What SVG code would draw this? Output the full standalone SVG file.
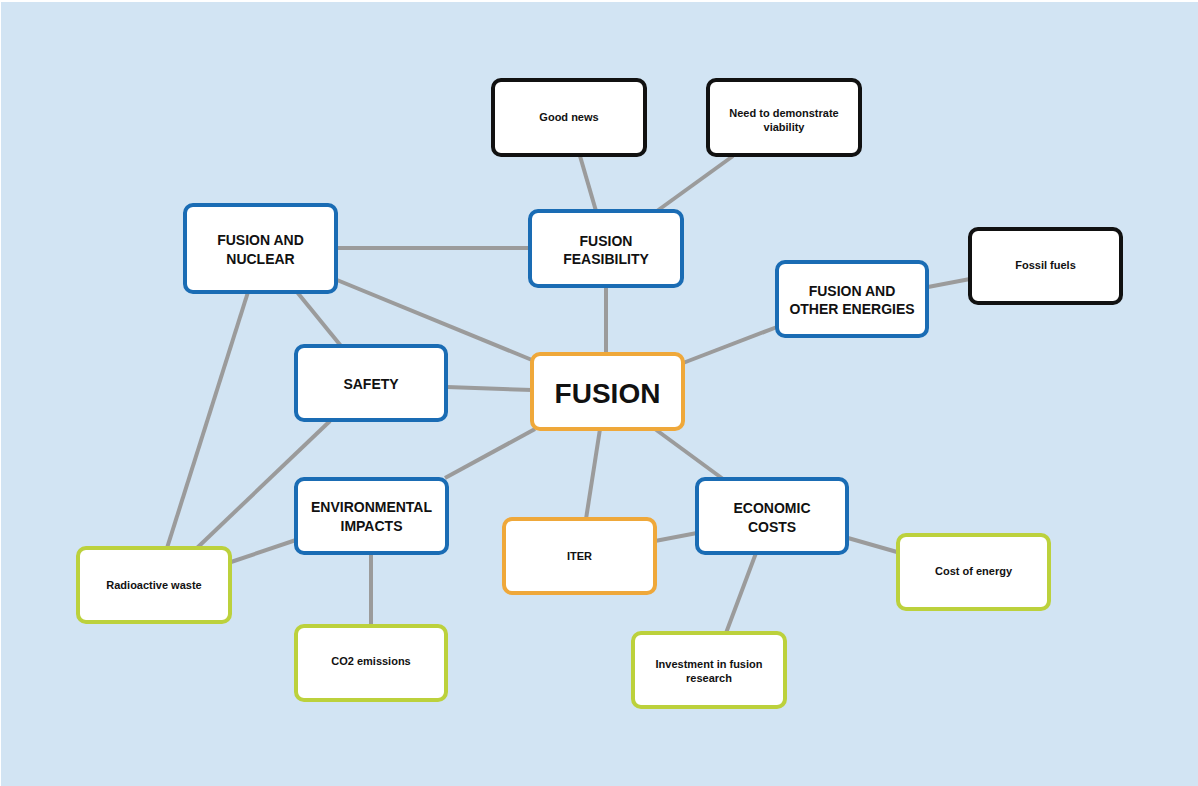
<svg xmlns="http://www.w3.org/2000/svg" width="1198" height="786" viewBox="0 0 1198 786">
<style>
.box{fill:#ffffff;stroke-width:4}
.blue{stroke:#1a6cb4}
.black{stroke:#111111}
.orange{stroke:#efa83a}
.green{stroke:#bcd13c}
text{font-family:"Liberation Sans",Arial,sans-serif;font-weight:bold;fill:#111111;text-anchor:middle}
.big{font-size:28px}
.mid{font-size:14px}
.small{font-size:11px}
#connectors line{stroke:#9b9b9b;stroke-width:4;stroke-linecap:butt}
</style>
<rect x="0" y="0" width="1198" height="786" fill="#ffffff"/>
<rect x="1" y="2" width="1197" height="784" fill="#d2e4f3"/>
<g id="connectors">
<line x1="580" y1="156" x2="596" y2="211"/>
<line x1="733" y1="156" x2="657" y2="211"/>
<line x1="336" y1="248" x2="530" y2="248"/>
<line x1="606" y1="286" x2="606" y2="354"/>
<line x1="337" y1="280" x2="532" y2="360"/>
<line x1="297" y1="292" x2="341" y2="346"/>
<line x1="248" y1="292" x2="167" y2="548"/>
<line x1="447" y1="387" x2="532" y2="390"/>
<line x1="330" y1="421" x2="197" y2="548"/>
<line x1="296" y1="540" x2="231" y2="562"/>
<line x1="371" y1="553" x2="371" y2="626"/>
<line x1="535" y1="429" x2="445" y2="478"/>
<line x1="600" y1="429" x2="586" y2="519"/>
<line x1="655" y1="429" x2="723" y2="479"/>
<line x1="655" y1="541" x2="697" y2="533"/>
<line x1="756" y1="553" x2="726" y2="633"/>
<line x1="848" y1="538" x2="897" y2="552"/>
<line x1="683" y1="363" x2="777" y2="327"/>
<line x1="928" y1="287" x2="970" y2="279"/>
</g>
<g id="good-news"><rect class="box black" x="493" y="80" width="152" height="75" rx="8"/><text class="small" x="569" y="121">Good news</text></g>
<g id="need-viability"><rect class="box black" x="708" y="80" width="152" height="75" rx="8"/><text class="small" x="784" y="117">Need to demonstrate</text><text class="small" x="784" y="131">viability</text></g>
<g id="fusion-feasibility"><rect class="box blue" x="530" y="211" width="152" height="75" rx="8"/><text class="mid" x="606" y="246">FUSION</text><text class="mid" x="606" y="264">FEASIBILITY</text></g>
<g id="fusion-nuclear"><rect class="box blue" x="185" y="205" width="151" height="87" rx="8"/><text class="mid" x="260.5" y="245">FUSION AND</text><text class="mid" x="260.5" y="264">NUCLEAR</text></g>
<g id="fossil-fuels"><rect class="box black" x="970" y="229" width="151" height="74" rx="8"/><text class="small" x="1045.5" y="269">Fossil fuels</text></g>
<g id="fusion-other"><rect class="box blue" x="777" y="262" width="150" height="74" rx="8"/><text class="mid" x="852" y="296">FUSION AND</text><text class="mid" x="852" y="314">OTHER ENERGIES</text></g>
<g id="safety"><rect class="box blue" x="296" y="346" width="150" height="74" rx="8"/><text class="mid" x="371" y="389">SAFETY</text></g>
<g id="fusion"><rect class="box orange" x="532" y="354" width="151" height="75" rx="8"/><text class="big" x="607.5" y="403">FUSION</text></g>
<g id="environmental"><rect class="box blue" x="296" y="479" width="151" height="74" rx="8"/><text class="mid" x="371.5" y="512">ENVIRONMENTAL</text><text class="mid" x="371.5" y="531">IMPACTS</text></g>
<g id="economic"><rect class="box blue" x="697" y="479" width="150" height="74" rx="8"/><text class="mid" x="772" y="513">ECONOMIC</text><text class="mid" x="772" y="532">COSTS</text></g>
<g id="iter"><rect class="box orange" x="504" y="519" width="151" height="74" rx="8"/><text class="small" x="579.5" y="560">ITER</text></g>
<g id="radioactive-waste"><rect class="box green" x="78" y="548" width="152" height="74" rx="8"/><text class="small" x="154" y="589">Radioactive waste</text></g>
<g id="cost-energy"><rect class="box green" x="898" y="535" width="151" height="74" rx="8"/><text class="small" x="973.5" y="575">Cost of energy</text></g>
<g id="co2"><rect class="box green" x="296" y="626" width="150" height="74" rx="8"/><text class="small" x="371" y="665">CO2 emissions</text></g>
<g id="investment"><rect class="box green" x="633" y="633" width="152" height="74" rx="8"/><text class="small" x="709" y="668">Investment in fusion</text><text class="small" x="709" y="682">research</text></g>
</svg>
